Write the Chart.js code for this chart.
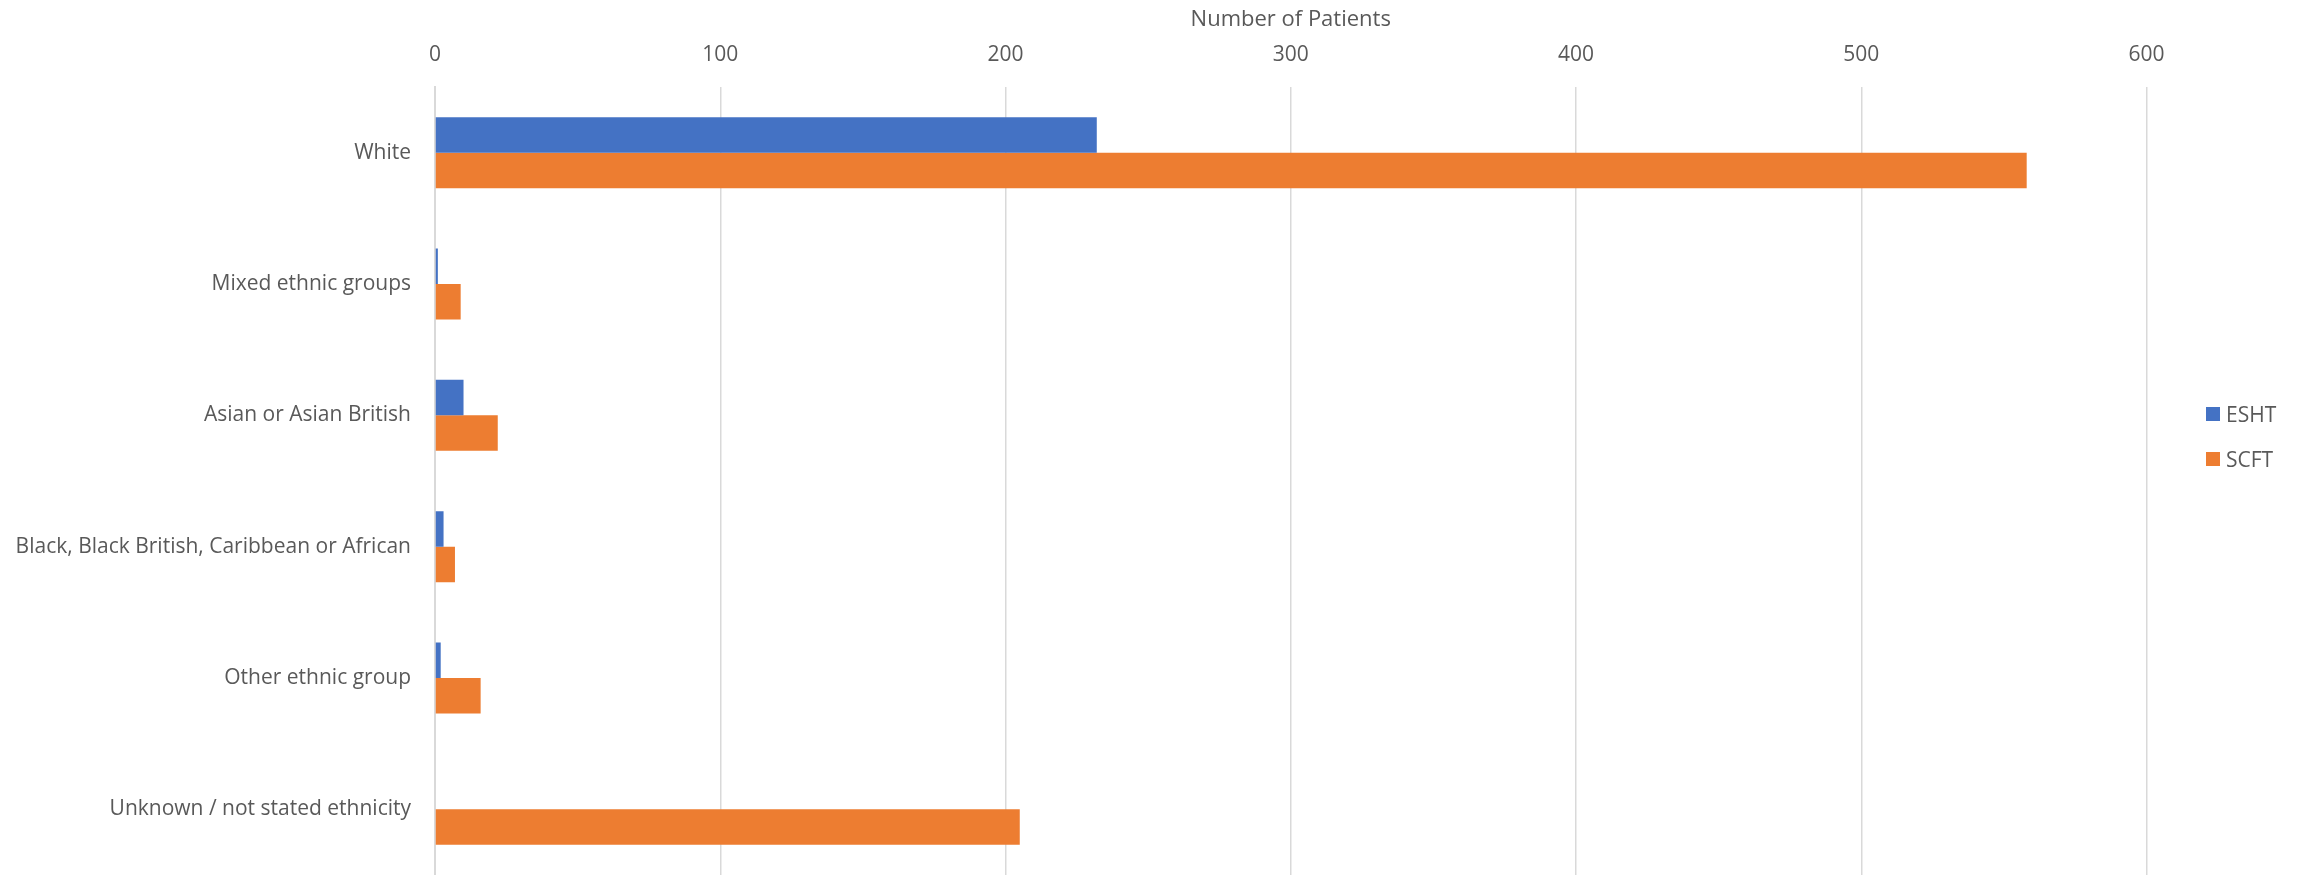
<!DOCTYPE html>
<html>
<head>
<meta charset="utf-8">
<script src="https://cdn.jsdelivr.net/npm/chart.js@4"></script>
<style>
    html, body { margin: 0; padding: 0; background: #ffffff; overflow: hidden; }
    #wrap { position: relative; width: 2302px; height: 875px; }
    #ethnicityChart { display: block; }
    #legend { position: absolute; left: 2206px; top: 396px; font-family: "Open Sans", sans-serif; font-size: 21px; line-height: 36px; color: #595959; }
    .item { display: flex; align-items: center; height: 36px; margin-bottom: 9px; }
    .box { display: inline-block; width: 14px; height: 14px; margin-right: 6px; }
</style>
</head>
<body>
<div id="wrap">
    <canvas id="ethnicityChart" width="2302" height="875"></canvas>
    <div id="legend"></div>
</div>
<script>
// Ethnicity breakdown, number of patients per trust
const categories = [
    'White',
    'Mixed ethnic groups',
    'Asian or Asian British',
    'Black, Black British, Caribbean or African',
    'Other ethnic group',
    'Unknown / not stated ethnicity'
];
const seriesNames = ['ESHT', 'SCFT'];
const eshtValues = [232, 1, 10, 3, 2, 0];
const scftValues = [558, 9, 22, 7, 16, 205];
const xTicks = [0, 100, 200, 300, 400, 500, 600];

const colors = ['#4472C4', '#ED7D31'];
const textColor = '#595959';
const gridColor = '#d9d9d9';
const fontFamily = '"Open Sans", sans-serif';

const ctx = document.getElementById('ethnicityChart');
const chart = new Chart(ctx, {
    type: 'bar',
    data: {
        labels: categories,
        datasets: [
            { label: seriesNames[0], data: eshtValues, backgroundColor: colors[0] },
            { label: seriesNames[1], data: scftValues, backgroundColor: colors[1] }
        ]
    },
    options: {
        indexAxis: 'y',
        responsive: false,
        animation: false,
        categoryPercentage: 0.54,
        barPercentage: 1,
        layout: { padding: { top: 0, right: 155.5, bottom: 0, left: 0 } },
        plugins: {
            legend: { display: false },
            tooltip: { enabled: false }
        },
        scales: {
            x: {
                position: 'top',
                min: xTicks[0],
                max: xTicks[xTicks.length - 1],
                afterBuildTicks: (scale) => {
                    scale.ticks = xTicks.map(v => ({ value: v }));
                },
                afterFit: (scale) => { scale.height = 87; },
                grid: { color: gridColor, lineWidth: 1.5, drawTicks: false },
                border: { display: false },
                ticks: {
                    color: textColor,
                    padding: 19,
                    font: { family: fontFamily, size: 21 }
                },
                title: {
                    display: true,
                    text: 'Number of Patients',
                    color: textColor,
                    padding: { top: 7, bottom: 0 },
                    font: { family: fontFamily, size: 22 }
                }
            },
            y: {
                afterFit: (scale) => {
                    scale.width = 435;
                    // the label padding should not shrink the plot vertically
                    scale.paddingTop = 0;
                    scale.paddingBottom = 0;
                },
                grid: { display: false, drawTicks: false },
                border: { display: true, color: gridColor, width: 2 },
                ticks: {
                    color: textColor,
                    padding: 24,
                    font: { family: fontFamily, size: 21 }
                }
            }
        }
    }
});

// legend built from the datasets
const legendEl = document.getElementById('legend');
chart.data.datasets.forEach(ds => {
    const item = document.createElement('div');
    item.className = 'item';
    const box = document.createElement('span');
    box.className = 'box';
    box.style.background = ds.backgroundColor;
    const label = document.createElement('span');
    label.textContent = ds.label;
    item.appendChild(box);
    item.appendChild(label);
    legendEl.appendChild(item);
});
</script>
</body>
</html>
